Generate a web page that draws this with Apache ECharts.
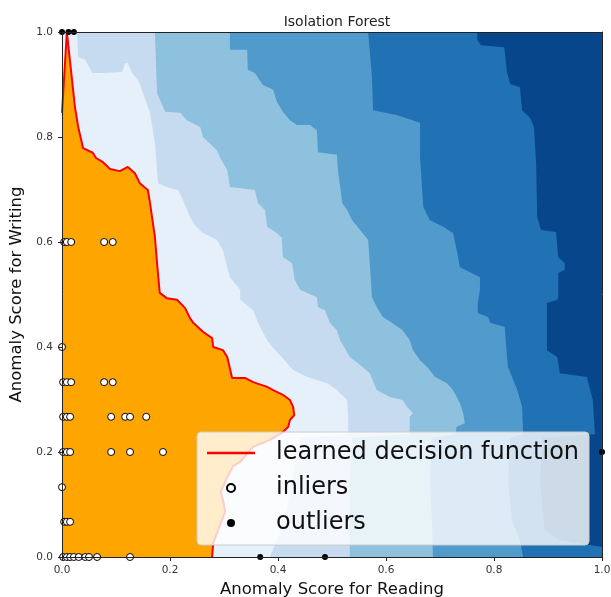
<!DOCTYPE html>
<html><head><meta charset="utf-8">
<script src="https://cdn.jsdelivr.net/npm/echarts@6/dist/echarts.min.js"></script>
<style>html,body{margin:0;padding:0;background:#fff}#c{width:611px;height:597px}</style>
</head><body><div id="c"></div>
<script>
// ---- data (axis units) ----
const titleText = 'Isolation Forest';
const xName = 'Anomaly Score for Reading';
const yName = 'Anomaly Score for Writing';
const legendNames = ['learned decision function','inliers','outliers'];

// decision boundary (threshold contour), traced from top to bottom
const redBoundary = [[0,0.846],[0.009,1.0],[0.024,0.857],[0.030,0.819],[0.039,0.779],[0.057,0.770],[0.063,0.760],[0.076,0.752],[0.089,0.739],[0.107,0.735],[0.122,0.743],[0.135,0.731],[0.144,0.712],[0.159,0.699],[0.163,0.674],[0.172,0.610],[0.176,0.560],[0.181,0.503],[0.194,0.493],[0.213,0.490],[0.228,0.474],[0.237,0.455],[0.243,0.446],[0.261,0.429],[0.278,0.417],[0.280,0.400],[0.298,0.394],[0.306,0.381],[0.315,0.341],[0.339,0.341],[0.354,0.333],[0.380,0.324],[0.391,0.318],[0.409,0.309],[0.422,0.299],[0.428,0.286],[0.430,0.270],[0.422,0.261],[0.419,0.248],[0.409,0.238],[0.385,0.223],[0.354,0.210],[0.330,0.181],[0.317,0.173],[0.306,0.152],[0.294,0.124],[0.298,0.109],[0.302,0.086],[0.289,0.051],[0.280,0.027],[0.278,0.0]];

// contour level edges (each separates a band from the next darker one)
const edge1 = [[0.028,1.0],[0.030,0.952],[0.043,0.947],[0.056,0.922],[0.076,0.922],[0.111,0.924],[0.117,0.941],[0.122,0.941],[0.130,0.922],[0.141,0.909],[0.150,0.884],[0.163,0.846],[0.172,0.789],[0.178,0.712],[0.194,0.705],[0.215,0.699],[0.224,0.680],[0.237,0.648],[0.246,0.632],[0.261,0.617],[0.287,0.604],[0.298,0.585],[0.306,0.552],[0.311,0.533],[0.330,0.509],[0.330,0.490],[0.354,0.470],[0.363,0.446],[0.380,0.413],[0.391,0.398],[0.407,0.381],[0.428,0.356],[0.454,0.343],[0.491,0.331],[0.509,0.318],[0.528,0.299],[0.530,0.267],[0.530,0.234],[0.441,0.227],[0.426,0.147],[0.413,0.070],[0.385,0.0]];
const edge2 = [[0.172,1.0],[0.176,0.884],[0.191,0.848],[0.219,0.846],[0.231,0.832],[0.256,0.819],[0.261,0.800],[0.287,0.775],[0.293,0.760],[0.306,0.737],[0.311,0.705],[0.357,0.699],[0.363,0.674],[0.376,0.661],[0.380,0.629],[0.398,0.617],[0.407,0.608],[0.409,0.571],[0.426,0.560],[0.431,0.528],[0.441,0.509],[0.472,0.495],[0.474,0.476],[0.487,0.470],[0.496,0.446],[0.509,0.432],[0.515,0.413],[0.533,0.381],[0.557,0.362],[0.570,0.350],[0.583,0.318],[0.607,0.305],[0.631,0.299],[0.639,0.286],[0.650,0.274],[0.644,0.267],[0.644,0.234],[0.537,0.227],[0.533,0.147],[0.533,0.070],[0.533,0.0]];
const edge3 = [[0.311,1.0],[0.311,0.966],[0.343,0.966],[0.344,0.928],[0.357,0.922],[0.372,0.899],[0.391,0.890],[0.398,0.867],[0.409,0.848],[0.422,0.832],[0.435,0.823],[0.459,0.823],[0.472,0.813],[0.474,0.771],[0.509,0.766],[0.511,0.737],[0.519,0.674],[0.528,0.661],[0.537,0.642],[0.552,0.623],[0.567,0.604],[0.570,0.560],[0.574,0.495],[0.583,0.476],[0.594,0.457],[0.611,0.446],[0.631,0.432],[0.644,0.413],[0.650,0.394],[0.663,0.375],[0.678,0.360],[0.691,0.343],[0.713,0.331],[0.724,0.318],[0.737,0.293],[0.743,0.274],[0.746,0.255],[0.731,0.248],[0.728,0.234],[0.685,0.227],[0.681,0.147],[0.685,0.070],[0.687,0.0]];
const edge4 = [[0.567,1.0],[0.574,0.914],[0.576,0.851],[0.620,0.842],[0.663,0.827],[0.663,0.762],[0.669,0.667],[0.681,0.642],[0.706,0.629],[0.724,0.617],[0.731,0.585],[0.737,0.552],[0.774,0.533],[0.774,0.509],[0.770,0.484],[0.770,0.465],[0.789,0.457],[0.793,0.446],[0.820,0.438],[0.824,0.381],[0.826,0.362],[0.843,0.318],[0.852,0.286],[0.854,0.234],[0.830,0.227],[0.826,0.147],[0.833,0.070],[0.848,0.032],[0.854,0.0]];
const edge5 = [[0.769,1.0],[0.769,0.985],[0.776,0.975],[0.819,0.971],[0.824,0.924],[0.830,0.901],[0.848,0.895],[0.852,0.851],[0.867,0.836],[0.874,0.819],[0.878,0.750],[0.880,0.648],[0.887,0.623],[0.915,0.619],[0.919,0.571],[0.931,0.560],[0.931,0.547],[0.919,0.541],[0.919,0.495],[0.917,0.490],[0.898,0.484],[0.898,0.394],[0.917,0.381],[0.922,0.350],[0.972,0.343],[0.978,0.318],[0.983,0.299],[0.987,0.234],[0.891,0.227],[0.885,0.147],[0.894,0.051],[0.922,0.032],[0.978,0.023],[1.0,0.019]];

const inliers = [
  [0.004,0.6],[0.009,0.6],[0.017,0.6],[0.078,0.6],[0.094,0.6],
  [0.0,0.4],
  [0.002,0.333],[0.009,0.333],[0.017,0.333],[0.078,0.333],[0.094,0.333],
  [0.002,0.267],[0.009,0.267],[0.015,0.267],[0.091,0.267],[0.117,0.267],[0.126,0.267],[0.156,0.267],
  [0.002,0.2],[0.009,0.2],[0.015,0.2],[0.091,0.2],[0.126,0.2],[0.187,0.2],
  [0.0,0.133],
  [0.004,0.067],[0.009,0.067],[0.015,0.067],
  [0.002,0.0],[0.009,0.0],[0.015,0.0],[0.022,0.0],[0.031,0.0],[0.043,0.0],[0.050,0.0],[0.065,0.0],[0.126,0.0]
];
const outliers = [[0.0,1.0],[0.012,1.0],[0.022,1.0],[0.367,0.0],[0.487,0.0],[1.0,0.2]];

// ---- styles ----
const edges = [edge1, edge2, edge3, edge4, edge5];
const bandColors = ['#e6f0fa','#c6dbef','#8dc1dd','#509bcb','#2171b5','#08468c'];
const font = 'DejaVu Sans';

const chart = echarts.init(document.getElementById('c'), null, {renderer:'canvas'});

const baseAxis = {
  type:'value', min:0, max:1, interval:0.2,
  splitLine:{show:false},
  axisLine:{show:true, onZero:false, lineStyle:{color:'#222', width:1}},
  axisTick:{show:true, length:4, lineStyle:{color:'#222'}},
  z: 10
};
const frameAxis = {
  type:'value', min:0, max:1, splitLine:{show:false},
  axisLine:{show:true, onZero:false, lineStyle:{color:'#222', width:1}},
  axisTick:{show:false}, axisLabel:{show:false}, z:10
};

chart.setOption({
  animation:false,
  title:{text:titleText, left:332, top:10, textAlign:'center',
    textStyle:{fontFamily:font, fontSize:14, fontWeight:'normal', color:'#222'}},
  grid:{left:62, right:9, top:32, bottom:40, containLabel:false, outerBoundsMode:'none',
    show:true, backgroundColor:bandColors[0], borderWidth:0},
  xAxis:[
    Object.assign({}, baseAxis, {position:'bottom', name:xName, nameLocation:'middle', nameGap:21,
      nameTextStyle:{fontFamily:font, fontSize:16.5, color:'#111'},
      axisLabel:{fontFamily:font, fontSize:10.5, color:'#333', margin:8, formatter:v=>v.toFixed(1)}}),
    Object.assign({}, frameAxis, {position:'top'})
  ],
  yAxis:[
    Object.assign({}, baseAxis, {position:'left', name:yName, nameLocation:'middle', nameGap:30,
      nameTextStyle:{fontFamily:font, fontSize:16.5, color:'#111'},
      axisLabel:{fontFamily:font, fontSize:10.5, color:'#333', margin:9, formatter:v=>v.toFixed(1)}}),
    Object.assign({}, frameAxis, {position:'right'})
  ],
  legend:{
    orient:'vertical', left:197, top:432, padding:[9,10,10,10],
    backgroundColor:'rgba(255,255,255,0.8)', borderColor:'#cccccc', borderWidth:1, borderRadius:4,
    itemWidth:48, itemHeight:8, itemGap:11,
    textStyle:{fontFamily:font, fontSize:24, color:'#111', padding:[0,0,0,16]},
    data:[
      {name:legendNames[0], icon:'path://M0,0L48,0L48,2.5L0,2.5Z'},
      {name:legendNames[1]},
      {name:legendNames[2]}
    ],
    selectedMode:false
  },
  series:[
    {
      type:'custom', silent:true, z:1,
      data: edges.map((e,i)=>[i]),
      renderItem:(params, api)=>{
        const i = params.dataIndex;
        const pts = edges[i].concat([[1,0],[1,1]]).map(p=>api.coord(p));
        return {type:'polygon', shape:{points:pts}, style:{fill:bandColors[i+1]}};
      }
    },
    {
      type:'custom', silent:true, z:2,
      data:[[0]],
      renderItem:(params, api)=>{
        const pts = redBoundary.concat([[0,0]]).map(p=>api.coord(p));
        return {type:'polygon', shape:{points:pts}, style:{fill:'#ffa500'}};
      }
    },
    {
      name:legendNames[0], type:'line', data:redBoundary, z:3,
      symbol:'none', showSymbol:false, clip:true,
      lineStyle:{color:'#ff0000', width:2}, itemStyle:{color:'#ff0000'}
    },
    {
      name:legendNames[1], type:'scatter', data:inliers, z:4, symbolSize:7,
      itemStyle:{color:'#ffffff', borderColor:'#000000', borderWidth:1, opacity:1}
    },
    {
      name:legendNames[2], type:'scatter', data:outliers, z:4, symbolSize:6,
      itemStyle:{color:'#000000', opacity:1}
    }
  ]
});
</script></body></html>
